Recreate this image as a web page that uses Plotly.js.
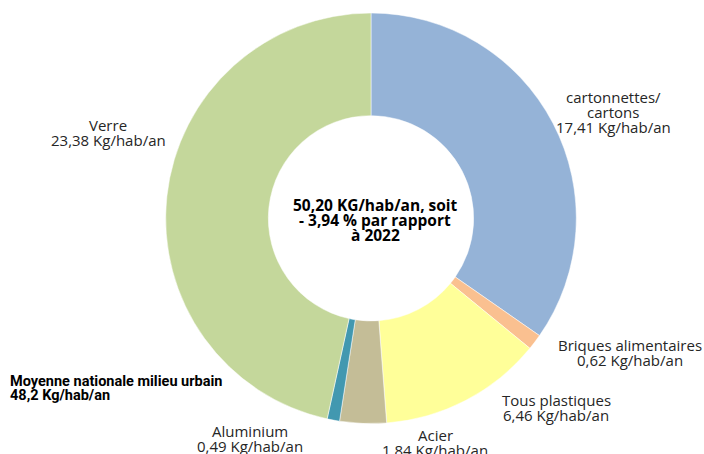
<!DOCTYPE html>
<html>
<head>
<meta charset="utf-8">
<script src="https://cdn.plot.ly/plotly-3.0.1.min.js"></script>
<style>html,body{margin:0;padding:0;background:#fff;}#chart{width:704px;height:454px;}</style>
</head>
<body>
<div id="chart"></div>
<script>
const categories = ["cartonnettes/|cartons", "Briques alimentaires", "Tous plastiques", "Acier", "Aluminium", "Verre"];
const values = [17.41, 0.62, 6.46, 1.84, 0.49, 23.38];
const valueLabels = ["17,41", "0,62", "6,46", "1,84", "0,49", "23,38"];
const unit = "Kg/hab/an";
const colors = ["#95B3D7", "#FAC090", "#FFFF99", "#C4BD97", "#4298B0", "#C4D79B"];
const centerLines = ["50,20 KG/hab/an, soit", "- 3,94 % par rapport", "à 2022"];
const noteLines = ["Moyenne nationale milieu urbain", "48,2 Kg/hab/an"];

const W = 704, H = 454;
const cx = 371, cy = 218.3, R = 205.3;
// [center x, y of first line] in pixels
const labelPos = [[613, 97], [629.5, 345], [556, 400], [435, 435], [250, 431], [108, 125]];
const lineGap = 15;
const px = (x) => x / W, py = (y) => (H - y) / H;

const font = "Open Sans, sans-serif";
const annotations = [];
function addLine(text, x, y, anchor, size, color, fam) {
  annotations.push({
    text: text, x: px(x), y: py(y),
    xref: "paper", yref: "paper", xanchor: anchor, yanchor: "middle",
    showarrow: false, align: anchor === "left" ? "left" : "center", borderpad: 0,
    font: {family: fam || font, size: size, color: color}
  });
}
categories.forEach((c, i) => {
  const lines = c.split("|").concat([valueLabels[i] + " " + unit]);
  lines.forEach((t, k) => addLine(t, labelPos[i][0], labelPos[i][1] + k * lineGap, "center", 15, "#262626"));
});
centerLines.forEach((t, k) => addLine("<b>" + t + "</b>", 375, 205 + k * 15.2, "center", 15.5, "#000"));
noteLines.forEach((t, k) => addLine("<b>" + t + "</b>", 9, 381 + k * 14.5, "left", 14.5, "#000", "Roboto, sans-serif"));

Plotly.newPlot("chart", [{
  type: "pie",
  labels: categories.map(c => c.replace("|", " ")),
  values: values,
  sort: false,
  direction: "clockwise",
  rotation: 0,
  hole: 0.5,
  textinfo: "none",
  hoverinfo: "label+value",
  marker: {colors: colors, line: {color: "#fff", width: 0.5}},
  domain: {x: [px(cx - R), px(cx + R)], y: [py(cy + R), py(cy - R)]}
}], {
  width: W, height: H,
  margin: {l: 0, r: 0, t: 0, b: 0},
  showlegend: false,
  paper_bgcolor: "#fff",
  annotations: annotations
}, {displayModeBar: false, staticPlot: true});
</script>
</body>
</html>
